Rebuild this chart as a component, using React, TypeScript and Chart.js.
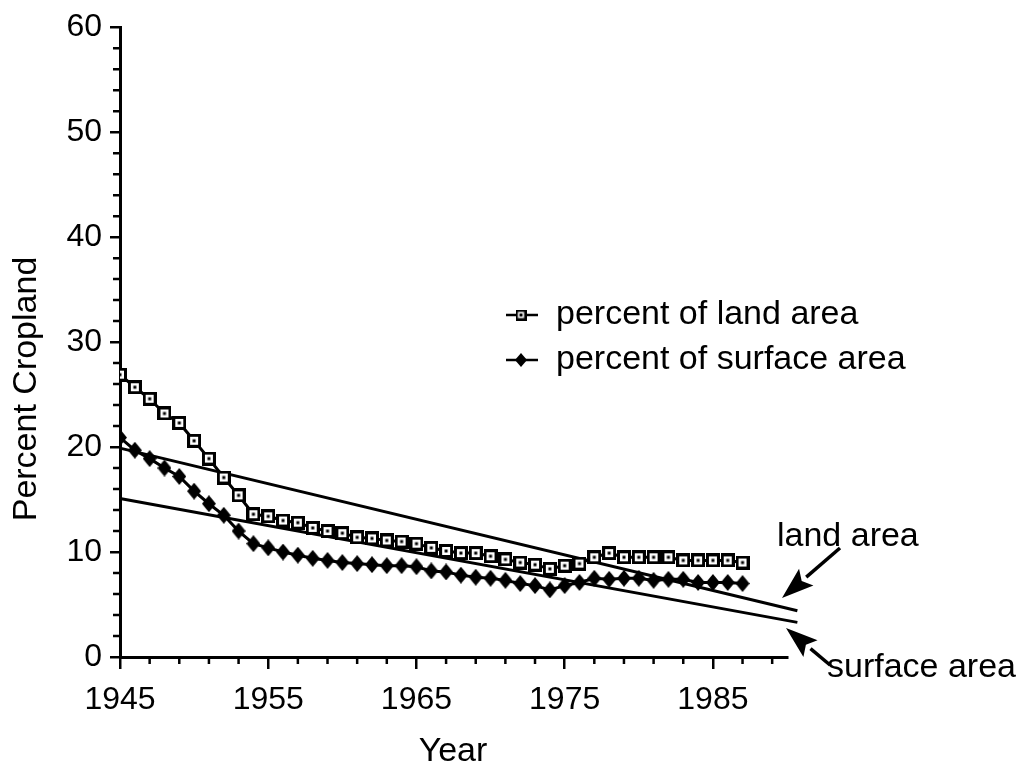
import React, { useEffect, useRef } from "react";
import { Chart, registerables } from "chart.js";

Chart.register(...registerables);

const years = [
  1945, 1946, 1947, 1948, 1949, 1950, 1951, 1952, 1953, 1954,
  1955, 1956, 1957, 1958, 1959, 1960, 1961, 1962, 1963, 1964,
  1965, 1966, 1967, 1968, 1969, 1970, 1971, 1972, 1973, 1974,
  1975, 1976, 1977, 1978, 1979, 1980, 1981, 1982, 1983, 1984,
  1985, 1986, 1987,
];

const landArea = [
  26.9, 25.7, 24.6, 23.2, 22.3, 20.6, 18.9, 17.1, 15.4, 13.6,
  13.4, 13.0, 12.8, 12.3, 12.0, 11.8, 11.4, 11.3, 11.1, 11.0,
  10.8, 10.4, 10.1, 9.9, 9.9, 9.6, 9.3, 9.0, 8.8, 8.4,
  8.7, 8.9, 9.5, 9.9, 9.5, 9.5, 9.5, 9.5, 9.2, 9.2,
  9.2, 9.2, 9.0,
];

const surfaceArea = [
  20.9, 19.7, 18.9, 18.0, 17.2, 15.8, 14.6, 13.5, 12.0, 10.8,
  10.4, 10.0, 9.7, 9.4, 9.2, 9.0, 8.9, 8.8, 8.7, 8.7,
  8.6, 8.2, 8.1, 7.8, 7.6, 7.5, 7.3, 7.0, 6.8, 6.4,
  6.8, 7.1, 7.5, 7.4, 7.5, 7.5, 7.3, 7.4, 7.4, 7.1,
  7.1, 7.1, 7.0,
];

const trendYears = [1945, 1990.7];
const landTrend = [19.9, 4.4];
const surfaceTrend = [15.1, 3.3];

const xTickYears = [1945, 1955, 1965, 1975, 1985];
const seriesLabels = ["percent of land area", "percent of surface area"];
const annotationLabels = ["land area", "surface area"];
const xTitle = "Year";
const yTitle = "Percent Cropland";

const FONT = '"Liberation Sans", Arial, Helvetica, sans-serif';
const FS = 32;
const FS_TEXT = 34;

function makeSquare(w: number, h: number, lw: number) {
  const c = document.createElement("canvas");
  c.width = w;
  c.height = h;
  const ctx = c.getContext("2d")!;
  ctx.fillStyle = "#fff";
  ctx.fillRect(0, 0, w, h);
  ctx.strokeStyle = "#000";
  ctx.lineWidth = lw;
  ctx.strokeRect(lw / 2, lw / 2, w - lw, h - lw);
  ctx.fillStyle = "#000";
  ctx.fillRect(w / 2 - 1.5, h / 2 - 1.5, 3, 3);
  return c;
}

function makeDiamond(w: number, h: number) {
  const c = document.createElement("canvas");
  c.width = w;
  c.height = h;
  const ctx = c.getContext("2d")!;
  ctx.fillStyle = "#000";
  ctx.beginPath();
  ctx.moveTo(w / 2, 0);
  ctx.lineTo(w, h / 2);
  ctx.lineTo(w / 2, h);
  ctx.lineTo(0, h / 2);
  ctx.closePath();
  ctx.fill();
  return c;
}

function arrow(ctx: CanvasRenderingContext2D, x1: number, y1: number, x2: number, y2: number) {
  const ang = Math.atan2(y2 - y1, x2 - x1);
  const len = 32;
  const hw = 11;
  const bx = x2 - len * Math.cos(ang);
  const by = y2 - len * Math.sin(ang);
  ctx.beginPath();
  ctx.moveTo(x1, y1);
  ctx.lineTo(bx, by);
  ctx.lineWidth = 3.5;
  ctx.stroke();
  ctx.beginPath();
  ctx.moveTo(x2, y2);
  ctx.lineTo(bx + hw * Math.sin(ang), by - hw * Math.cos(ang));
  ctx.lineTo(bx + 6 * Math.cos(ang), by + 6 * Math.sin(ang));
  ctx.lineTo(bx - hw * Math.sin(ang), by + hw * Math.cos(ang));
  ctx.closePath();
  ctx.fill();
}

export default function App() {
  const ref = useRef<HTMLCanvasElement>(null);

  useEffect(() => {
    const canvas = ref.current!;
    const sq = makeSquare(14, 14, 3);
    const di = makeDiamond(14, 17);
    const sqLegend = makeSquare(11, 11, 2.4);
    const diLegend = makeDiamond(12, 14);

    const overlay = {
      id: "overlay",
      afterDraw(chart: any) {
        const ctx: CanvasRenderingContext2D = chart.ctx;
        const xs = chart.scales.x;
        const ys = chart.scales.y;
        const ca = chart.chartArea;
        ctx.save();
        ctx.strokeStyle = "#000";
        ctx.fillStyle = "#000";
        ctx.lineWidth = 2.5;
        // minor ticks
        ctx.beginPath();
        for (let v = 1947; v <= 1989; v += 2) {
          if (xTickYears.includes(v)) continue;
          const px = xs.getPixelForValue(v);
          ctx.moveTo(px, ca.bottom);
          ctx.lineTo(px, ca.bottom + 7);
        }
        for (let v = 2; v < 60; v += 2) {
          if (v % 10 === 0) continue;
          const py = ys.getPixelForValue(v);
          ctx.moveTo(ca.left - 7, py);
          ctx.lineTo(ca.left, py);
        }
        ctx.stroke();

        // legend
        ctx.font = `${FS_TEXT}px ${FONT}`;
        ctx.textBaseline = "middle";
        ctx.textAlign = "left";
        const legendRows = [
          { y: 315, img: sqLegend },
          { y: 360, img: diLegend },
        ];
        legendRows.forEach((r, i) => {
          ctx.lineWidth = 2.5;
          ctx.beginPath();
          ctx.moveTo(506, r.y);
          ctx.lineTo(538, r.y);
          ctx.stroke();
          ctx.drawImage(r.img, 521 - r.img.width / 2, r.y - r.img.height / 2);
          ctx.fillText(chart.data.datasets[i].label, 556, r.y);
        });

        // annotations
        ctx.fillText(annotationLabels[0], 777, 537);
        ctx.fillText(annotationLabels[1], 827, 668);
        arrow(ctx, 840, 548, 782, 598);
        arrow(ctx, 830, 665, 786, 628);

        // axis titles
        ctx.textAlign = "center";
        ctx.fillText(xTitle, 453, 752);
        ctx.save();
        ctx.translate(27, 389);
        ctx.rotate(-Math.PI / 2);
        ctx.fillText(yTitle, 0, 0);
        ctx.restore();
        ctx.restore();
      },
    };

    const chart = new Chart(canvas, {
      type: "line",
      data: {
        datasets: [
          {
            label: seriesLabels[0],
            data: years.map((y, i) => ({ x: y, y: landArea[i] })),
            borderColor: "#000",
            borderWidth: 3,
            pointStyle: sq as any,
            pointRadius: 7,
            tension: 0,
          },
          {
            label: seriesLabels[1],
            data: years.map((y, i) => ({ x: y, y: surfaceArea[i] })),
            borderColor: "#000",
            borderWidth: 3,
            pointStyle: di as any,
            pointRadius: 7,
            tension: 0,
          },
          {
            label: "land trend",
            data: trendYears.map((y, i) => ({ x: y, y: landTrend[i] })),
            borderColor: "#000",
            borderWidth: 3,
            pointRadius: 0,
            clip: false as any,
          },
          {
            label: "surface trend",
            data: trendYears.map((y, i) => ({ x: y, y: surfaceTrend[i] })),
            borderColor: "#000",
            borderWidth: 3,
            pointRadius: 0,
            clip: false as any,
          },
        ],
      },
      options: {
        animation: false,
        responsive: false,
        layout: { padding: { top: 24, right: 235, left: 0, bottom: 0 } },
        plugins: {
          legend: { display: false },
          tooltip: { enabled: false },
        },
        scales: {
          x: {
            type: "linear",
            min: 1945,
            max: 1990,
            afterFit: (s: any) => {
              s.height = 116;
            },
            afterBuildTicks: (s: any) => {
              s.ticks = xTickYears.map((v) => ({ value: v }));
            },
            grid: {
              drawOnChartArea: false,
              drawTicks: true,
              tickLength: 12,
              tickWidth: 2.5,
              lineWidth: 2.5,
              tickColor: "#000",
              color: "#000",
            },
            border: { display: true, color: "#000", width: 3 },
            ticks: {
              color: "#000",
              font: { family: FONT, size: FS },
              padding: 12,
              maxRotation: 0,
              autoSkip: false,
              callback: (v: any) => String(v),
            },
          },
          y: {
            type: "linear",
            min: 0,
            max: 60,
            afterFit: (s: any) => {
              s.width = 120;
            },
            grid: {
              drawOnChartArea: false,
              drawTicks: true,
              tickLength: 10,
              tickWidth: 2.5,
              lineWidth: 2.5,
              tickColor: "#000",
              color: "#000",
            },
            border: { display: true, color: "#000", width: 3 },
            ticks: {
              stepSize: 10,
              color: "#000",
              font: { family: FONT, size: FS },
              padding: 8,
            },
          },
        },
      },
      plugins: [overlay],
    });

    return () => chart.destroy();
  }, []);

  return (
    <div
      style={{
        position: "fixed",
        left: 0,
        top: 0,
        width: 1022,
        height: 773,
        background: "#fff",
      }}
    >
      <canvas ref={ref} width={1022} height={773} />
    </div>
  );
}
